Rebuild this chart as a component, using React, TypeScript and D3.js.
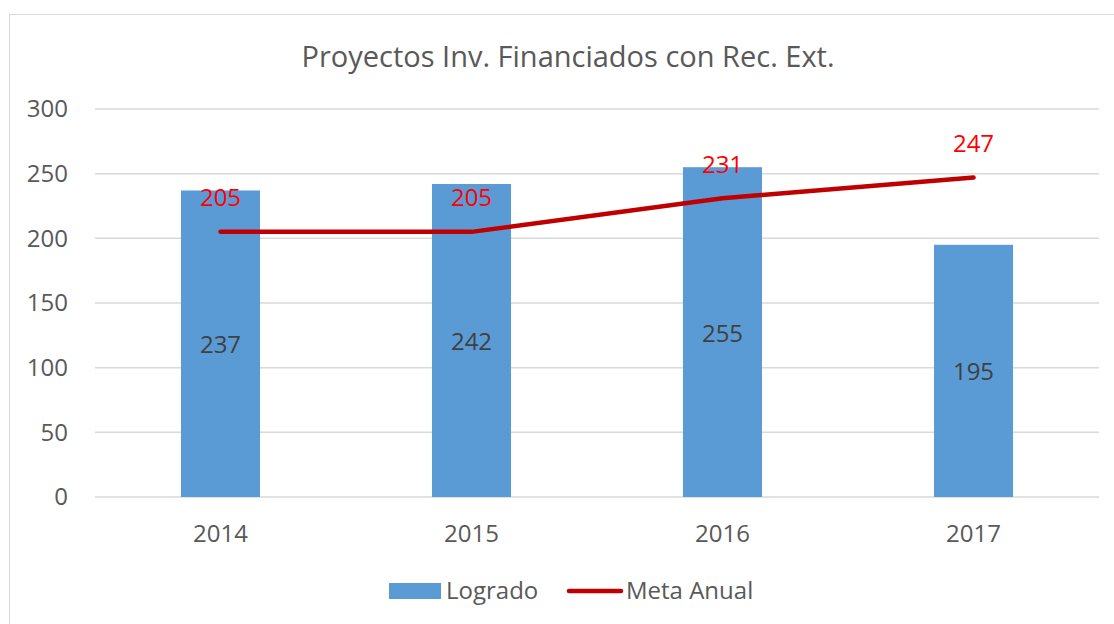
import React, { useEffect, useRef } from 'react';
import * as d3 from 'd3';

const years = ['2014', '2015', '2016', '2017'];
const logrado = [237, 242, 255, 195];
const metaAnual = [205, 205, 231, 247];
const yTicks = [0, 50, 100, 150, 200, 250, 300];

const FONT = '"Open Sans", sans-serif';

export default function App() {
  const svgRef = useRef<SVGSVGElement | null>(null);

  useEffect(() => {
    if (!svgRef.current) return;
    const svg = d3.select(svgRef.current);
    svg.selectAll('*').remove();

    const width = 1114;
    const height = 624;
    const margin = { top: 109, right: 15, bottom: 127, left: 95 };

    // chart frame
    svg.append('rect')
      .attr('x', 9.5).attr('y', 14.5)
      .attr('width', width + 20).attr('height', height + 20)
      .attr('fill', '#fff').attr('stroke', '#d9d9d9');

    const x = d3.scaleBand<string>()
      .domain(years)
      .range([margin.left, width - margin.right]);
    const y = d3.scaleLinear()
      .domain([0, 300])
      .range([height - margin.bottom, margin.top]);

    // grid
    svg.append('g').selectAll('line')
      .data(yTicks)
      .enter().append('line')
      .attr('x1', margin.left).attr('x2', width - margin.right)
      .attr('y1', d => y(d)).attr('y2', d => y(d))
      .attr('stroke', '#d9d9d9').attr('stroke-width', 1.5);

    // y tick labels
    svg.append('g').selectAll('text')
      .data(yTicks)
      .enter().append('text')
      .attr('x', 68).attr('y', d => y(d))
      .attr('dy', '0.35em')
      .attr('text-anchor', 'end')
      .attr('fill', '#595959')
      .style('font-family', FONT).style('font-size', '24px')
      .text(d => d);

    // x labels
    svg.append('g').selectAll('text')
      .data(years)
      .enter().append('text')
      .attr('x', d => x(d)! + x.bandwidth() / 2)
      .attr('y', y(0) + 37)
      .attr('dy', '0.35em')
      .attr('text-anchor', 'middle')
      .attr('fill', '#595959')
      .style('font-family', FONT).style('font-size', '24px')
      .text(d => d);

    // bars
    const barW = x.bandwidth() * 0.315;
    svg.append('g').selectAll('rect')
      .data(logrado)
      .enter().append('rect')
      .attr('x', (_, i) => x(years[i])! + (x.bandwidth() - barW) / 2)
      .attr('y', d => y(d))
      .attr('width', barW)
      .attr('height', d => y(0) - y(d))
      .attr('fill', '#5b9bd5');

    svg.append('g').selectAll('text')
      .data(logrado)
      .enter().append('text')
      .attr('x', (_, i) => x(years[i])! + x.bandwidth() / 2)
      .attr('y', d => y(d / 2) + 1)
      .attr('dy', '0.35em')
      .attr('text-anchor', 'middle')
      .attr('fill', '#404040')
      .style('font-family', FONT).style('font-size', '24px')
      .text(d => d);

    // meta line
    const line = d3.line<number>()
      .x((_, i) => x(years[i])! + x.bandwidth() / 2)
      .y(d => y(d));
    svg.append('path')
      .datum(metaAnual)
      .attr('d', line)
      .attr('fill', 'none')
      .attr('stroke', '#c00000')
      .attr('stroke-width', 4.5)
      .attr('stroke-linecap', 'round')
      .attr('stroke-linejoin', 'round');

    svg.append('g').selectAll('text')
      .data(metaAnual)
      .enter().append('text')
      .attr('x', (_, i) => x(years[i])! + x.bandwidth() / 2)
      .attr('y', d => y(d) - 34)
      .attr('dy', '0.35em')
      .attr('text-anchor', 'middle')
      .attr('fill', '#ff0000')
      .style('font-family', FONT).style('font-size', '24px')
      .text(d => d);

    // title
    svg.append('text')
      .attr('x', 568).attr('y', 57)
      .attr('dy', '0.35em')
      .attr('text-anchor', 'middle')
      .attr('fill', '#595959')
      .style('font-family', FONT).style('font-size', '29px')
      .text('Proyectos Inv. Financiados con Rec. Ext.');

    // legend
    const lg = svg.append('g');
    lg.append('rect')
      .attr('x', 389).attr('y', 583).attr('width', 52).attr('height', 16)
      .attr('fill', '#5b9bd5');
    lg.append('text')
      .attr('x', 446).attr('y', 591).attr('dy', '0.35em')
      .attr('fill', '#595959')
      .style('font-family', FONT).style('font-size', '24px')
      .text('Logrado');
    lg.append('line')
      .attr('x1', 569).attr('x2', 621).attr('y1', 591).attr('y2', 591)
      .attr('stroke', '#c00000').attr('stroke-width', 4.5)
      .attr('stroke-linecap', 'round');
    lg.append('text')
      .attr('x', 626).attr('y', 591).attr('dy', '0.35em')
      .attr('fill', '#595959')
      .style('font-family', FONT).style('font-size', '24px')
      .text('Meta Anual');
  }, []);

  return (
    <svg
      ref={svgRef}
      width={1114}
      height={624}
      style={{ position: 'absolute', left: 0, top: 0, display: 'block', background: '#fff' }}
    />
  );
}
